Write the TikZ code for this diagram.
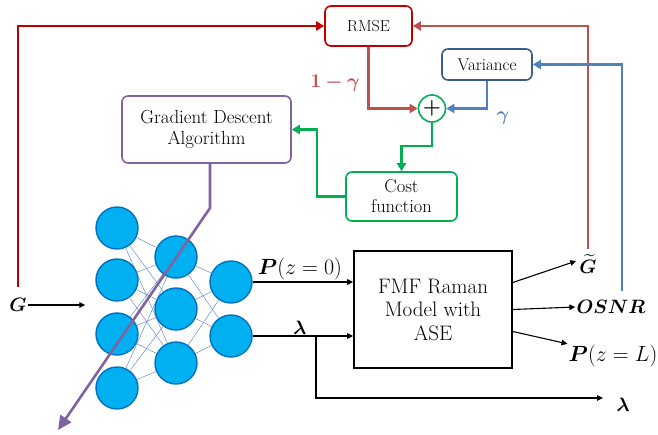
\documentclass[tikz,border=0pt]{standalone}
\usepackage{amsmath,bm}
\usetikzlibrary{arrows.meta,calc}
\definecolor{dred}{HTML}{C00000}
\definecolor{lred}{HTML}{C0504D}
\definecolor{dblue}{HTML}{385D8A}
\definecolor{lblue}{HTML}{4F81BD}
\definecolor{cgreen}{HTML}{00B050}
\definecolor{purp}{HTML}{8064A2}
\definecolor{nfill}{HTML}{00B0F0}
\definecolor{nedge}{HTML}{0070C0}
\definecolor{syncol}{HTML}{4472C4}
\newcommand{\mlb}[1]{\scalebox{1.12}{$#1$}}
\newcommand{\plb}[1]{\scalebox{1.06}{$#1$}}
\begin{document}
\begin{tikzpicture}[x=1pt,y=-1pt,
  box/.style={draw, rounded corners=6pt, line width=1.6pt, fill=white, align=center, inner sep=0pt},
  neuron/.style={circle, draw=nedge, fill=nfill, line width=1.4pt, minimum size=42pt, inner sep=0pt},
  syn/.style={syncol, line width=0.35pt},
  carr/.style={line width=2.4pt, -{Triangle[length=8pt,width=9pt]}},
  barr/.style={line width=1.1pt, -{Triangle[length=6pt,width=5.5pt]}},
  mlab/.style={inner sep=1pt, font=\fontsize{17.28}{20}\selectfont},
  plab/.style={inner sep=1pt, font=\fontsize{20.74}{23}\selectfont}]
\useasboundingbox (0,0) rectangle (658,434);

% boxes
\node[box, draw=dred, minimum width=87pt, minimum height=40pt, font=\fontsize{16}{19}\selectfont] (rmse) at (368.5,26) {RMSE};
\node[box, draw=dblue, minimum width=90pt, minimum height=31pt, font=\fontsize{17}{19}\selectfont] (var) at (487,64.5) {Variance};
\node[box, draw=cgreen, minimum width=111pt, minimum height=49pt, font=\fontsize{18.5}{20}\selectfont] (cost) at (401.5,196.5) {Cost\\function};
\node[box, draw=purp, minimum width=169pt, minimum height=67pt, font=\fontsize{19}{21}\selectfont] (gd) at (206.5,129.5) {Gradient Descent\\Algorithm};
\node[draw, line width=1.6pt, minimum width=158pt, minimum height=117pt, align=center, inner sep=0pt, font=\fontsize{21}{23.5}\selectfont] (fmf) at (433,309.5) {FMF Raman\\Model with\\ASE};
\node[circle, draw=cgreen, line width=1.6pt, fill=white, minimum size=27pt, inner sep=0pt, font=\fontsize{20.74}{22}\selectfont] (plus) at (432,108.5) {$\bm{+}$};

% labels
\node[mlab, text=lred] (lg) at (335,83) {\mlb{\bm{1-\gamma}}};
\node[mlab, text=lblue] (g) at (503,118) {\mlb{\bm{\gamma}}};
\node[mlab] (G) at (18,305) {\mlb{\bm{G}}};
\node[mlab] (gt) at (588,264) {\mlb{\widetilde{\bm{G}}}};
\node[mlab] (osnr) at (611,307) {\mlb{\bm{OSNR}}};
\node[plab] (pzl) at (613,356) {\plb{\bm{P}(z=L)}};
\node[mlab] (lamout) at (623,405) {\mlb{\bm{\lambda}}};
\coordinate (lamend) at (603,398);

% neural network
\foreach \i/\y in {1/228,2/280,3/334,4/388} \node[neuron] (a\i) at (117,\y) {};
\foreach \i/\y in {1/257,2/309,3/363} \node[neuron] (b\i) at (176,\y) {};
\foreach \i/\y in {1/282,2/336} \node[neuron] (c\i) at (231,\y) {};
\foreach \i in {1,...,4} \foreach \j in {1,2,3} \draw[syn] (a\i) -- (b\j);
\foreach \i in {1,2,3} \foreach \j in {1,2} \draw[syn] (b\i) -- (c\j);

% red / blue / green feedback
\draw[carr, dred] ([yshift=10pt]G.north) |- (rmse.west);
\draw[carr, lred] ([yshift=4pt]gt.north) |- (rmse.east);
\draw[carr, lblue] ([xshift=11pt,yshift=8pt]osnr.north) |- (var.east);
\draw[carr, lred] (rmse.south) |- (plus.west);
\draw[carr, lblue] (var.south) |- (plus.east);
\draw[carr, cgreen] (plus.south) |- ($(cost.north)+(0,-25)$) -- (cost.north);
\draw[carr, cgreen] (cost.west) -- ++(-28,0) |- (gd.east);

% inputs / outputs
\draw[barr] (G.east) -- ($(a2.west |- G.east)+(-10,0)$);
\draw[barr] (c1.east) -- node[plab, above, pos=0.47] (p0) {\plb{\bm{P}(z=0)}} (c1.east -| fmf.west);
\draw[barr] (c2.east) -- node[mlab, above, pos=0.47] (lam) {\mlb{\bm{\lambda}}} (c2.east -| fmf.west);
\coordinate (br) at (316,336);
\draw[barr] (br) |- (lamend);
\draw[barr] ($(fmf.east)+(0,-27)$) -- ($(gt.west)+(-2,-3)$);
\draw[barr] (fmf.east) -- (osnr.west);
\draw[barr] ($(fmf.east)+(0,22)$) -- (pzl.north west);

% purple
\coordinate (gdb) at (210,208);
\coordinate (tip) at (58,430);
\draw[purp, line width=2.6pt, -{Triangle[length=14pt,width=13pt]}] (gd.south -| gdb) -- (gdb) -- (tip);
\end{tikzpicture}
\end{document}
